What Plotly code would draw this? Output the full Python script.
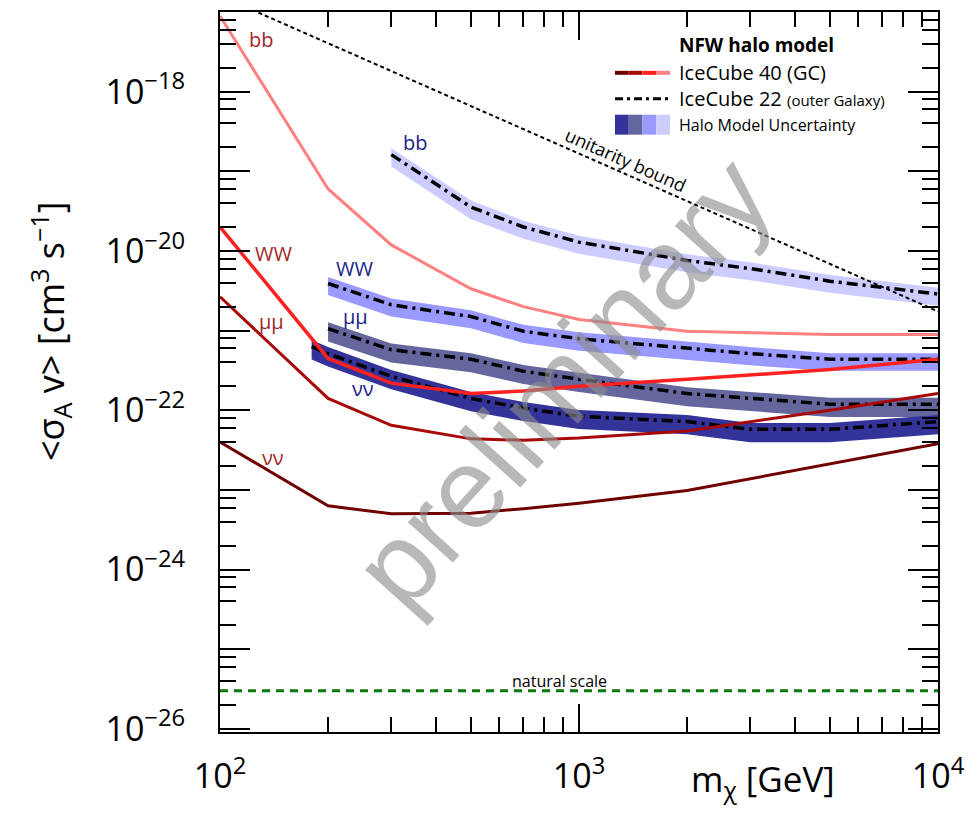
import plotly.graph_objects as go

# ---------------- data ----------------
# IceCube 40 (GC) limits
ic40_mass = [100, 200, 300, 500, 700, 1000, 2000, 5000, 10000]
ic40_bb = [8.9e-18, 6.0e-20, 1.19e-20, 3.35e-21, 2.0e-21, 1.38e-21, 9.8e-22, 8.9e-22, 8.9e-22]
ic40_ww = [2.0e-20, 4.47e-22, 2.19e-22, 1.62e-22, 1.74e-22, 2.0e-22, 2.45e-22, 3.24e-22, 4.37e-22]
ic40_mumu = [2.66e-21, 1.41e-22, 6.46e-23, 4.37e-23, 4.2e-23, 4.47e-23, 5.5e-23, 1.0e-22, 1.62e-22]
ic40_nunu = [4.0e-23, 6.3e-24, 5.0e-24, 5.1e-24, 5.8e-24, 6.8e-24, 9.8e-24, 2.1e-23, 3.8e-23]

# IceCube 22 (outer Galaxy) limits and halo-model uncertainty bands
ic22_bb_mass = [300, 500, 700, 1000, 2000, 3000, 5000, 10000]
ic22_bb = [1.62e-19, 3.55e-20, 2.0e-20, 1.29e-20, 7.6e-21, 6.0e-21, 4.17e-21, 2.88e-21]
ic22_bb_hi = [1.95e-19, 4.3e-20, 2.4e-20, 1.55e-20, 9.1e-21, 7.2e-21, 5.0e-21, 3.45e-21]
ic22_bb_lo = [1.15e-19, 2.5e-20, 1.42e-20, 9.2e-21, 5.4e-21, 4.3e-21, 2.98e-21, 2.05e-21]

ic22_ww_mass = [200, 300, 500, 700, 1000, 2000, 3000, 5000, 10000]
ic22_ww = [3.9e-21, 2.11e-21, 1.5e-21, 9.8e-22, 7.9e-22, 5.96e-22, 5.13e-22, 4.37e-22, 4.37e-22]
ic22_ww_hi = [4.7e-21, 2.53e-21, 1.8e-21, 1.18e-21, 9.5e-22, 7.2e-22, 6.2e-22, 5.2e-22, 5.2e-22]
ic22_ww_lo = [2.8e-21, 1.5e-21, 1.07e-21, 7.0e-22, 5.6e-22, 4.26e-22, 3.66e-22, 3.12e-22, 3.12e-22]

ic22_mumu_mass = [200, 300, 500, 700, 1000, 2000, 3000, 5000, 10000]
ic22_mumu = [1.06e-21, 5.75e-22, 4.37e-22, 3.09e-22, 2.45e-22, 1.62e-22, 1.41e-22, 1.19e-22, 1.19e-22]
ic22_mumu_hi = [1.27e-21, 6.9e-22, 5.2e-22, 3.7e-22, 2.95e-22, 1.95e-22, 1.7e-22, 1.43e-22, 1.43e-22]
ic22_mumu_lo = [7.3e-22, 3.97e-22, 3.0e-22, 2.13e-22, 1.69e-22, 1.12e-22, 9.7e-23, 8.2e-23, 8.2e-23]

ic22_nunu_mass = [180, 200, 300, 500, 700, 1000, 2000, 3000, 5000, 10000]
ic22_nunu = [6.3e-22, 5.13e-22, 2.66e-22, 1.41e-22, 1.06e-22, 8.4e-23, 7.2e-23, 5.75e-23, 5.75e-23, 7.2e-23]
ic22_nunu_hi = [7.6e-22, 6.2e-22, 3.2e-22, 1.7e-22, 1.27e-22, 1.01e-22, 8.7e-23, 6.9e-23, 6.9e-23, 8.7e-23]
ic22_nunu_lo = [4.35e-22, 3.54e-22, 1.83e-22, 9.7e-23, 7.3e-23, 5.8e-23, 5.0e-23, 3.97e-23, 3.97e-23, 5.0e-23]

# reference lines
unitarity_mass = [100, 10000]
unitarity_val = [1.6e-17, 1.74e-21]
natural_mass = [100, 10000]
natural_val = [3.0e-26, 3.0e-26]

x_tickvals = [100, 1000, 10000]
x_ticktext = ["10<sup>2</sup>", "10<sup>3</sup>", "10<sup>4</sup>"]
y_tickvals = [1e-26, 1e-25, 1e-24, 1e-23, 1e-22, 1e-21, 1e-20, 1e-19, 1e-18, 1e-17]
y_ticktext = ["10<sup>−26</sup>", "", "10<sup>−24</sup>", "", "10<sup>−22</sup>", "",
              "10<sup>−20</sup>", "", "10<sup>−18</sup>", ""]

# ---------------- styling ----------------
RED = {"bb": "#ff8080", "ww": "#ff2020", "mumu": "#a80808", "nunu": "#700000"}
BLUE = {"nunu": "#333399", "mumu": "#66669f", "ww": "#9999ff", "bb": "#ccccff"}
DASHDOT = "11px,5px,3px,5px"

# frame position in the browser window (the page body adds an 8px offset)
OFF = 8
L, R, T, B = 220, 938, 10, 732
W, H = 960, 802


def px(xp):
    return (xp - L) / (R - L)


def py(yp):
    return (B - yp) / (B - T)


fig = go.Figure()

# uncertainty bands
bands = [
    (ic22_bb_mass, ic22_bb_hi, ic22_bb_lo, BLUE["bb"]),
    (ic22_ww_mass, ic22_ww_hi, ic22_ww_lo, BLUE["ww"]),
    (ic22_mumu_mass, ic22_mumu_hi, ic22_mumu_lo, BLUE["mumu"]),
    (ic22_nunu_mass, ic22_nunu_hi, ic22_nunu_lo, BLUE["nunu"]),
]
for m, hi, lo, col in bands:
    fig.add_trace(go.Scatter(x=m + m[::-1], y=hi + lo[::-1], fill="toself",
                             fillcolor=col, line=dict(width=0), mode="lines",
                             hoverinfo="skip", showlegend=False))

# IceCube 22 dash-dot lines
for m, v in [(ic22_bb_mass, ic22_bb), (ic22_ww_mass, ic22_ww),
             (ic22_mumu_mass, ic22_mumu), (ic22_nunu_mass, ic22_nunu)]:
    fig.add_trace(go.Scatter(x=m, y=v, mode="lines",
                             line=dict(color="black", width=3.5, dash=DASHDOT),
                             showlegend=False))

# IceCube 40 lines
for key, v, w in [("bb", ic40_bb, 3), ("mumu", ic40_mumu, 3),
                  ("nunu", ic40_nunu, 3), ("ww", ic40_ww, 3.5)]:
    fig.add_trace(go.Scatter(x=ic40_mass, y=v, mode="lines",
                             line=dict(color=RED[key], width=w),
                             showlegend=False))

# unitarity bound and natural scale
fig.add_trace(go.Scatter(x=unitarity_mass, y=unitarity_val, mode="lines",
                         line=dict(color="black", width=2, dash="4px,3px"),
                         showlegend=False))
fig.add_trace(go.Scatter(x=natural_mass, y=natural_val, mode="lines",
                         line=dict(color="#117711", width=3, dash="8px,6px"),
                         showlegend=False))

FONT = "Open Sans"
ann = []


def text(xp, yp, s, size, color="black", angle=0, xanchor="center", family=FONT):
    ann.append(dict(x=px(xp), y=py(yp), xref="paper", yref="paper", text=s,
                    showarrow=False, font=dict(size=size, color=color, family=family),
                    textangle=angle, xanchor=xanchor, yanchor="middle"))


# channel labels
RL = "#a02828"
BL = "#1c2288"
text(261, 38, "bb", 20, RL)
text(273, 252, "WW", 20, RL)
text(271, 320, "μμ", 20, RL)
text(273, 457, "νν", 20, RL)
text(415, 141, "bb", 20, BL)
text(354, 267, "WW", 20, BL)
text(355, 315, "μμ", 20, BL)
text(363, 388, "νν", 20, BL)

text(626, 158, "unitarity bound", 18, angle=24)
text(559, 681, "natural scale", 16)

# legend (decoration)
text(677, 43, "<b>NFW halo model</b>", 19, xanchor="left")
text(677, 71, "IceCube 40 (GC)", 20, xanchor="left")
text(677, 97, "IceCube 22 <span style='font-size:15px'>(outer Galaxy)</span>", 20, xanchor="left")
text(677, 123, "Halo Model Uncertainty", 16, xanchor="left")

shapes = []
red_order = [RED["nunu"], RED["mumu"], RED["ww"], RED["bb"]]
seg = (670 - 615) / 4
for i, c in enumerate(red_order):
    shapes.append(dict(type="line", xref="paper", yref="paper",
                       x0=px(615 + i * seg), x1=px(615 + (i + 1) * seg),
                       y0=py(71), y1=py(71), line=dict(color=c, width=4)))
shapes.append(dict(type="line", xref="paper", yref="paper",
                   x0=px(615), x1=px(670), y0=py(97), y1=py(97),
                   line=dict(color="black", width=3, dash="8px,4px,3px,4px")))
blue_order = [BLUE["nunu"], BLUE["mumu"], BLUE["ww"], BLUE["bb"]]
for i, c in enumerate(blue_order):
    shapes.append(dict(type="rect", xref="paper", yref="paper",
                       x0=px(615 + i * seg), x1=px(615 + (i + 1) * seg),
                       y0=py(133), y1=py(113), line=dict(width=0), fillcolor=c))

# axis titles
text(50, 330, "<σ<sub>A</sub> v> [cm<sup>3</sup> s<sup>−1</sup>]", 36, angle=-90)
text(837, 781, "m<sub>χ</sub> [GeV]", 35, xanchor="right")

# watermark
text(562, 382, "preliminary", 114, color="rgba(140,140,140,0.62)", angle=-48,
     family="Liberation Sans")

x_minor = [k * 10 ** d for d in (2, 3) for k in range(2, 10)]
y_minor = [k * 10.0 ** d for d in range(-26, -17) for k in (2, 4, 6, 8)]

fig.update_layout(
    width=W, height=H,
    margin=dict(l=L - OFF, r=W - (R - OFF), t=T - OFF, b=H - (B - OFF)),
    paper_bgcolor="white", plot_bgcolor="white", showlegend=False,
    annotations=ann, shapes=shapes,
    xaxis=dict(type="log", range=[2, 4], showgrid=False, zeroline=False,
               showline=True, linecolor="black", linewidth=2, mirror="ticks",
               ticks="inside", ticklen=28, tickwidth=2, tickcolor="black",
               tickvals=x_tickvals, ticktext=x_ticktext,
               tickfont=dict(size=34, family=FONT, color="black"),
               ticklabelstandoff=13,
               minor=dict(tickvals=x_minor, ticks="inside", ticklen=15,
                          tickwidth=2, tickcolor="black", showgrid=False)),
    yaxis=dict(type="log", range=[-26.04, -17.0], showgrid=False, zeroline=False,
               showline=True, linecolor="black", linewidth=2, mirror="ticks",
               ticks="inside", ticklen=30, tickwidth=2, tickcolor="black",
               tickvals=y_tickvals, ticktext=y_ticktext,
               tickfont=dict(size=34, family=FONT, color="black"),
               ticklabelstandoff=26,
               minor=dict(tickvals=y_minor, ticks="inside", ticklen=16,
                          tickwidth=2, tickcolor="black", showgrid=False)),
)

fig.write_html("out.html")
